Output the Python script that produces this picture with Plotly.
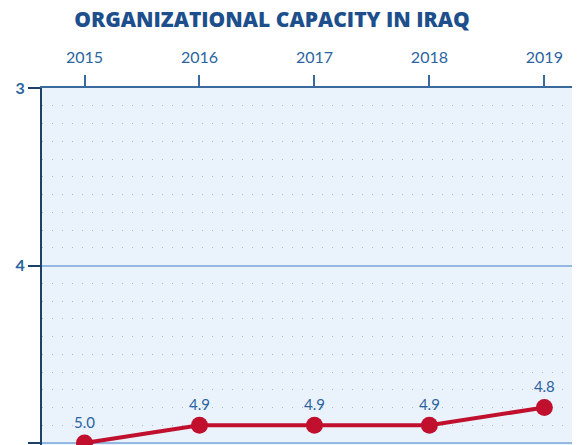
import plotly.graph_objects as go

years = [2015, 2016, 2017, 2018, 2019]
scores = [5.0, 4.9, 4.9, 4.9, 4.8]
labels = ["5.0", "4.9", "4.9", "4.9", "4.8"]
y_ticks = [3, 4, 5]
title_text = "ORGANIZATIONAL CAPACITY IN IRAQ"

blue_text = "#2a64a0"
navy = "#1e3f66"

W, H = 572, 437

fig = go.Figure()
fig.add_trace(go.Scatter(
    x=years, y=scores, mode="lines+markers+text",
    text=labels, textposition="top center",
    textfont=dict(family="Lato", size=15, color=blue_text),
    line=dict(color="#c0102e", width=4),
    marker=dict(color="#c0102e", size=17),
    cliponaxis=False, showlegend=False,
))

fig.update_layout(
    width=W, height=H,
    margin=dict(l=34, r=0, t=80, b=0, autoexpand=False),
    paper_bgcolor="white",
    plot_bgcolor="#eaf2fc",
    title=dict(text=title_text, x=264 / W, xref="container", xanchor="center",
               y=1 - 4 / H, yref="container", yanchor="top",
               font=dict(family="Open Sans", size=21, color="#1d4f8c", weight=800)),
    xaxis=dict(
        side="top", range=[2014.63, 2019.31], automargin=False,
        tickvals=years, ticktext=[str(y) for y in years],
        ticks="outside", ticklen=11, tickwidth=2, tickcolor="#3a6a9c",
        showline=True, linecolor="#3a6a9c", linewidth=2,
        showgrid=False, zeroline=False, ticklabelstandoff=6,
        tickfont=dict(family="Lato", size=16, color=blue_text),
    ),
    yaxis=dict(
        range=[5.0113, 3], tickvals=y_ticks, automargin=False,
        ticks="outside", ticklen=12, tickwidth=2, tickcolor=navy,
        showline=True, linecolor=navy, linewidth=2,
        showgrid=True, gridcolor="#94b8e0", gridwidth=2,
        zeroline=False,
        tickfont=dict(family="Lato", size=16, color=blue_text, weight=700),
        minor=dict(dtick=0.1, showgrid=True, gridcolor="#aab8cc",
                   griddash="1px,9px", gridwidth=1),
    ),
)

fig.write_html("out.html")
